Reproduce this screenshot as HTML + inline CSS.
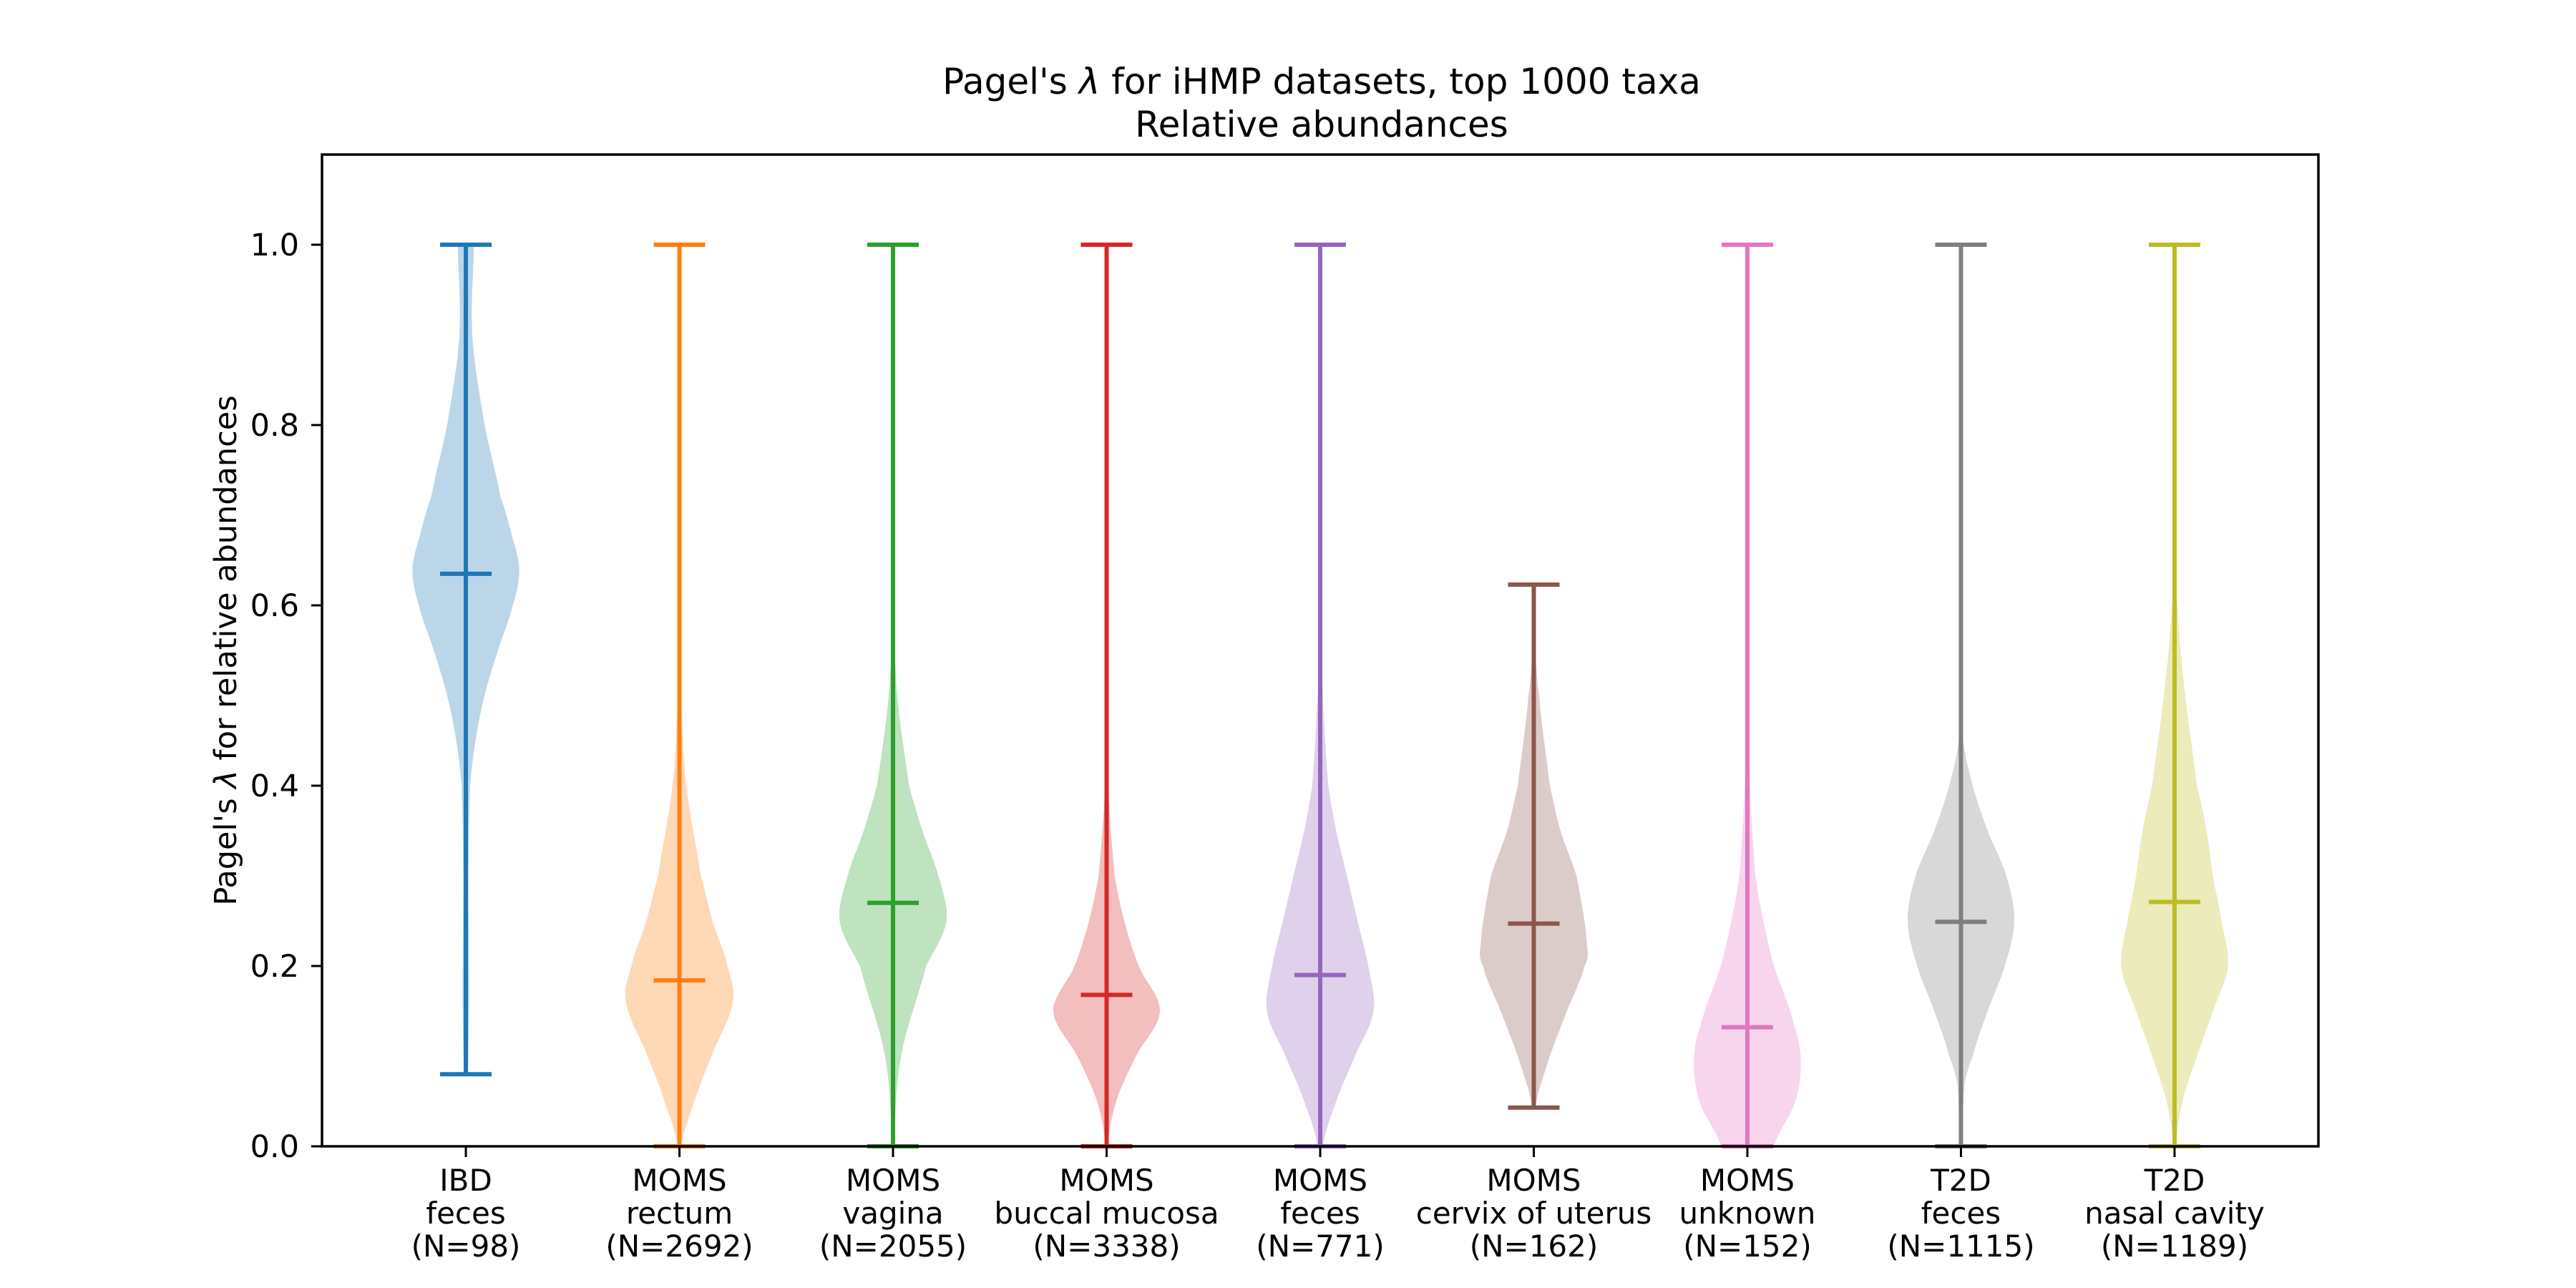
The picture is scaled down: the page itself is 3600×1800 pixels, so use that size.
<!DOCTYPE html>
<html><head><meta charset="utf-8"><style>
html,body{margin:0;padding:0;background:#fff;}
svg{display:block;font-family:"DejaVu Sans","Liberation Sans",sans-serif;}
</style></head><body>
<svg id="chart" width="3600" height="1800" viewBox="0 0 3600 1800" xmlns="http://www.w3.org/2000/svg">
<rect width="3600" height="1800" fill="#fff"/>
<g id="plot"></g>
<text x="1847" y="131" text-anchor="middle" font-size="50">Pagel's <tspan font-style="italic">λ</tspan> for iHMP datasets, top 1000 taxa</text>
<text x="1847" y="191" text-anchor="middle" font-size="50">Relative abundances</text>
<text transform="translate(330,909) rotate(-90)" text-anchor="middle" font-size="43">Pagel's <tspan font-style="italic">λ</tspan> for relative abundances</text>
</svg>
<script>
const categories = ["IBD|feces|(N=98)","MOMS|rectum|(N=2692)","MOMS|vagina|(N=2055)","MOMS|buccal mucosa|(N=3338)","MOMS|feces|(N=771)","MOMS|cervix of uterus|(N=162)","MOMS|unknown|(N=152)","T2D|feces|(N=1115)","T2D|nasal cavity|(N=1189)"];
const colors = ["#1f77b4","#ff7f0e","#2ca02c","#d62728","#9467bd","#8c564b","#e377c2","#7f7f7f","#bcbd22"];
const mins = [0.08,0,0,0,0,0.043,0,0,0];
const maxs = [1,1,1,1,1,0.623,1,1,1];
const means = [0.635,0.184,0.27,0.168,0.19,0.247,0.132,0.249,0.271];
const yTicks = [0,0.2,0.4,0.6,0.8,1.0];
const yTickLabels = ["0.0","0.2","0.4","0.6","0.8","1.0"];
const densY = [
 [0.08,0.15,0.2,0.3,0.4,0.45,0.5,0.55,0.6,0.64,0.68,0.72,0.8,0.9,1.0],
 [0,0.05,0.1,0.16,0.2,0.25,0.3,0.4,0.5,0.6,1.0],
 [0,0.1,0.2,0.25,0.3,0.35,0.4,0.5,0.6,1.0],
 [0,0.05,0.1,0.15,0.2,0.25,0.3,0.4,0.5,1.0],
 [0,0.05,0.1,0.15,0.2,0.25,0.3,0.35,0.4,0.5,0.6,1.0],
 [0.043,0.1,0.15,0.2,0.22,0.3,0.35,0.4,0.5,0.55,0.623],
 [0,0.05,0.1,0.15,0.2,0.25,0.3,0.4,0.5,1.0],
 [0,0.07,0.1,0.15,0.2,0.25,0.3,0.35,0.4,0.45,1.0],
 [0,0.05,0.1,0.15,0.2,0.25,0.3,0.35,0.4,0.5,0.6,0.65,1.0]
];
const densW = [
 [0.04,0.06,0.06,0.05,0.08,0.18,0.35,0.6,0.88,1.0,0.85,0.65,0.35,0.12,0.15],
 [0.03,0.28,0.6,1.0,0.9,0.62,0.4,0.13,0.03,0.01,0],
 [0.02,0.15,0.62,1.0,0.85,0.55,0.3,0.08,0.01,0],
 [0.02,0.18,0.55,1.0,0.6,0.33,0.15,0.03,0.01,0],
 [0.05,0.3,0.65,1.0,0.9,0.7,0.5,0.3,0.15,0.05,0.01,0],
 [0.03,0.3,0.62,0.95,1.0,0.8,0.5,0.3,0.1,0.03,0.01],
 [0.5,0.9,1.0,0.8,0.5,0.3,0.15,0.05,0.02,0],
 [0.01,0.07,0.22,0.5,0.82,1.0,0.85,0.5,0.22,0.04,0],
 [0.02,0.15,0.42,0.72,1.0,0.88,0.72,0.6,0.42,0.2,0.05,0.01,0]
];
const L=450,R=3240,T=216,B=1602;
const xMin=0.3265,xMax=9.6735,yMin=0,yMax=1.1;
const X=v=>L+(v-xMin)/(xMax-xMin)*(R-L);
const Y=v=>B-(v-yMin)/(yMax-yMin)*(B-T);
const HALF=0.25*(R-L)/(xMax-xMin);
const NS="http://www.w3.org/2000/svg";
const g=document.getElementById('plot');
function mk(tag,attrs){const e=document.createElementNS(NS,tag);for(const k in attrs)e.setAttribute(k,attrs[k]);g.appendChild(e);return e;}
function smooth(ys,ws){
  const out=[];const n=ys.length;
  for(let k=0;k<n-1;k++){
    const w0=ws[Math.max(k-1,0)],w1=ws[k],w2=ws[k+1],w3=ws[Math.min(k+2,n-1)];
    for(let s=0;s<8;s++){const t=s/8;
      let w=0.5*((2*w1)+(-w0+w2)*t+(2*w0-5*w1+4*w2-w3)*t*t+(-w0+3*w1-3*w2+w3)*t*t*t);
      out.push([ys[k]+(ys[k+1]-ys[k])*t,Math.max(0,w)]);}
  }
  out.push([ys[n-1],ws[n-1]]);return out;
}
categories.forEach((c,i)=>{
  const cx=X(i+1);const sm=smooth(densY[i],densW[i]);
  const right=sm.map(q=>[cx+q[1]*HALF,Y(q[0])]);
  const left=sm.map(q=>[cx-q[1]*HALF,Y(q[0])]).reverse();
  const pts=right.concat(left);
  const p=mk('polygon',{points:pts.map(q=>q[0].toFixed(1)+','+q[1].toFixed(1)).join(' '),fill:colors[i],'fill-opacity':0.3,stroke:'none'});
  
  
  const v=mk('line',{x1:cx,x2:cx,y1:Y(mins[i]),y2:Y(maxs[i]),stroke:colors[i],'stroke-width':6});
  
  
  [[mins[i],'min'],[maxs[i],'max'],[means[i],'mean']].forEach(([val,nm])=>{
    const l=mk('line',{x1:cx-36,x2:cx+36,y1:Y(val),y2:Y(val),stroke:colors[i],'stroke-width':6});
    
    
  });
  const tk=mk('line',{x1:cx,x2:cx,y1:B,y2:B+15,stroke:'#000','stroke-width':3});
  
  
  c.split('|').forEach((s,j)=>{
    const t=mk('text',{x:cx,y:1680+j*46-16,'text-anchor':'middle','font-size':42});
    t.textContent=s;
    
    
  });
});
yTicks.forEach((v,i)=>{
  const tk=mk('line',{x1:L-15,x2:L,y1:Y(v),y2:Y(v),stroke:'#000','stroke-width':3});
  
  
  const t=mk('text',{x:418,y:Y(v)+15,'text-anchor':'end','font-size':43});
  t.textContent=yTickLabels[i];
  
  
});
const fr=mk('rect',{x:L,y:T,width:R-L,height:B-T,fill:'none',stroke:'#000','stroke-width':3.5});


</script>
</body></html>
